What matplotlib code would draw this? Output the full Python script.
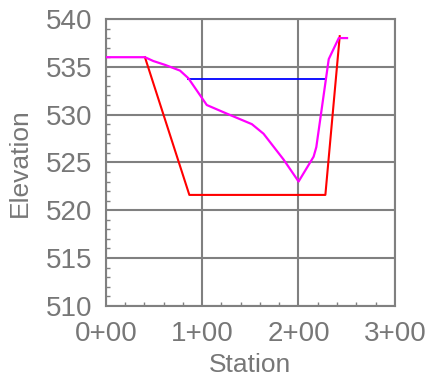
import matplotlib.pyplot as plt
from matplotlib.ticker import MultipleLocator, FuncFormatter

plt.rcParams['font.family'] = ['Liberation Sans', 'DejaVu Sans']

# ground profile (existing)
ground_sta = [0, 40.6, 49.3, 61.4, 77, 85.7, 104.8, 125.6, 151.6, 163.7, 184.5, 200.1, 215.7, 218.5, 231.4, 241.8, 250.4]
ground_elev = [536.0, 536.0, 535.6, 535.2, 534.6, 533.8, 531.0, 530.1, 529.0, 528.0, 525.3, 523.0, 525.6, 526.6, 535.8, 538.0, 538.0]

# design channel
design_sta = [40.6, 86.7, 227.9, 242.8]
design_elev = [536.0, 521.6, 521.6, 538.2]

# water surface
wse_sta = [85.7, 227.9]
wse_elev = [533.74, 533.74]

grey = '#777777'
fig = plt.figure(figsize=(4.25, 3.79), dpi=100)
ax = fig.add_axes([0.249, 0.193, 0.68, 0.757])

ax.plot(wse_sta, wse_elev, color='#0000ff', lw=1.3, zorder=3)
ax.plot(design_sta, design_elev, color='#ff0000', lw=1.5, zorder=4)
ax.plot(ground_sta, ground_elev, color='#ff00ff', lw=1.6, zorder=5)

ax.set_xlim(0, 300)
ax.set_ylim(510, 540)
ax.xaxis.set_major_locator(MultipleLocator(100))
ax.xaxis.set_minor_locator(MultipleLocator(20))
ax.yaxis.set_major_locator(MultipleLocator(5))
ax.yaxis.set_minor_locator(MultipleLocator(1))
ax.xaxis.set_major_formatter(FuncFormatter(lambda v, p: f'{int(v // 100)}+{int(v % 100):02d}'))

ax.grid(True, which='major', color='#808080', lw=1.5)
for s in ax.spines.values():
    s.set_color('#808080')
    s.set_linewidth(1.5)
ax.tick_params(which='both', direction='in', colors='#808080', labelcolor=grey, labelsize=20)
ax.tick_params(which='major', length=0)
ax.tick_params(which='minor', length=3, width=1)
ax.tick_params(axis='x', which='major', pad=11)
ax.tick_params(axis='y', which='major', pad=10)

ax.set_xlabel('Station', fontsize=19, color=grey, labelpad=4)
ax.set_ylabel('Elevation', fontsize=19, color=grey, labelpad=10)

fig.savefig('out.png', dpi=100)
